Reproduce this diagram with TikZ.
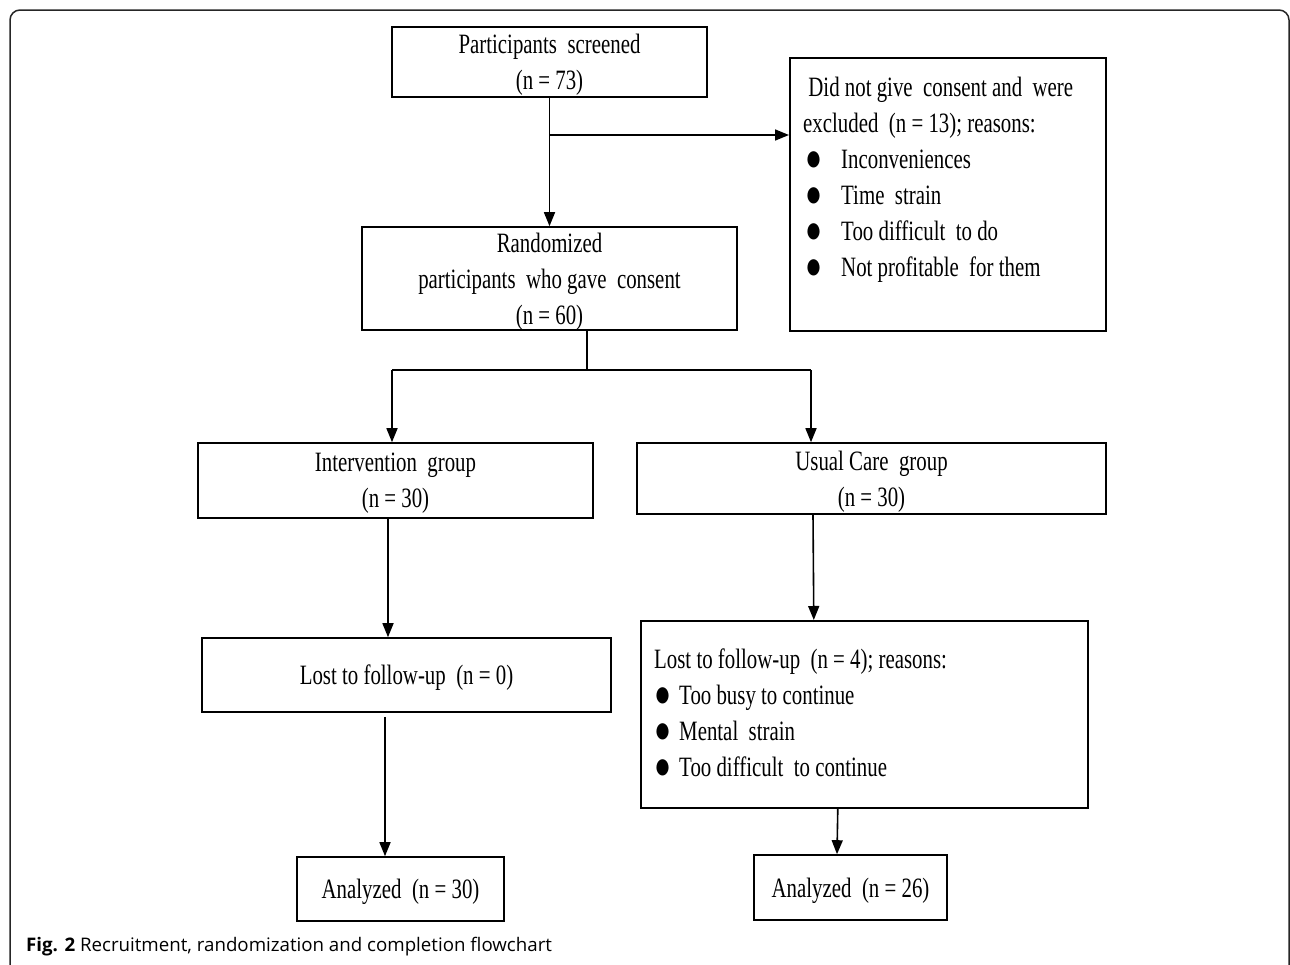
\documentclass[tikz,border=0pt]{standalone}
\usepackage{fontspec}
\setmainfont{Liberation Serif}[FakeStretch=0.745]
\newfontfamily\capfont{Open Sans}
\usetikzlibrary{arrows.meta}

% bullet items of the two reason lists
\newcommand{\bigbullet}{\raisebox{-2pt}{\scalebox{1.35}{●}}}
\newcommand{\exclitem}[1]{\makebox[38pt][l]{\hspace{2pt}\bigbullet}#1}
\newcommand{\lostitem}[1]{\makebox[25pt][l]{\bigbullet}#1}

\begin{document}
\begin{tikzpicture}[
    x=1pt, y=-1pt,
    box/.style={draw, line width=1.6pt, inner sep=0pt, align=center, text depth=0pt, font=\fontsize{28}{36}\selectfont},
    txt/.style={inner sep=0pt, align=left, anchor=north west, font=\fontsize{28}{36}\selectfont},
    arr/.style={-{Triangle[length=14pt,width=11pt]}, line width=1.6pt},
    link/.style={line width=1.6pt},
    frame/.style={line width=1.5pt, rounded corners=10pt, black!85},
]
\useasboundingbox (0,0) rectangle (1290,964);
\clip (0,0) rectangle (1290,964);
\draw[frame] (10,10) rectangle (1289,1000);

% Row 1: screening and exclusion
\node[box, minimum width=315pt, minimum height=70pt] (screen) at (549.5,62) {Participants~ screened\\(n = 73)};
\node[box, anchor=north west, minimum width=316pt, minimum height=273pt] (excl) at (789,57) {};
\node[txt] (exclt) at (803,77) {\ Did not give~ consent and~ were\\excluded~ (n = 13); reasons:\\
    \exclitem{Inconveniences}\\\exclitem{Time~ strain}\\\exclitem{Too difficult~ to do}\\\exclitem{Not profitable~ for them}};

% Row 2: randomization
\node[box, minimum width=375pt, minimum height=103pt] (rand) at (549.5,278.5) {Randomized\\participants~ who gave~ consent\\(n = 60)};

% Row 3: groups
\node[box, minimum width=395pt, minimum height=75pt] (interv) at (395.5,480.5) {Intervention~ group\\(n = 30)};
\node[box, minimum width=469pt, minimum height=71pt] (usual) at (871.5,478.5) {Usual Care~ group\\(n = 30)};

% Row 4: loss to follow-up
\node[box, minimum width=409pt, minimum height=74pt] (lost0) at (406.5,675) {Lost to follow-up~ (n = 0)};
\node[box, anchor=north west, minimum width=447pt, minimum height=187pt] (lost2) at (640,620) {};
\node[txt] (lost2t) at (654,649) {Lost to follow-up~ (n = 4); reasons:\\
    \lostitem{Too busy to continue}\\\lostitem{Mental~ strain}\\\lostitem{Too difficult~ to continue}};

% Row 5: analysis
\node[box, minimum width=207pt, minimum height=64pt] (ana1) at (400.5,889) {Analyzed~ (n = 30)};
\node[box, minimum width=193pt, minimum height=65pt] (ana2) at (850.5,887.5) {Analyzed~ (n = 26)};

% Caption
\node[anchor=base west, inner sep=0pt, font=\capfont\fontsize{18.7}{22}\selectfont] (cap) at (26,951) {\textbf{Fig. 2} Recruitment, randomization and completion flowchart};

% Arrows
\coordinate (split) at (549,135);
\coordinate (fork) at (587,370);
\coordinate (forkL) at (392,370);
\coordinate (forkR) at (811,370);
\draw[arr] (screen.south) -- (rand.north);
\draw[arr] (split) -- (split -| excl.west);
\draw[link] (rand.south -| fork) -- (fork);
\draw[link] (forkL) -- (forkR);
\draw[arr] (forkL) -- (forkL |- interv.north);
\draw[arr] (forkR) -- (forkR |- usual.north);
\draw[arr] ([xshift=-7.5pt]interv.south) -- ([xshift=-18.5pt]lost0.north);
\draw[arr] ([xshift=-21.5pt,yshift=-4pt]lost0.south) -- ([xshift=-15.5pt]ana1.north);
\draw[arr] ([xshift=-58.5pt]usual.south) -- ([xshift=-50.5pt]lost2.north);
\draw[arr] ([xshift=-26.5pt]lost2.south) -- ([xshift=-13.5pt]ana2.north);

\end{tikzpicture}
\end{document}
